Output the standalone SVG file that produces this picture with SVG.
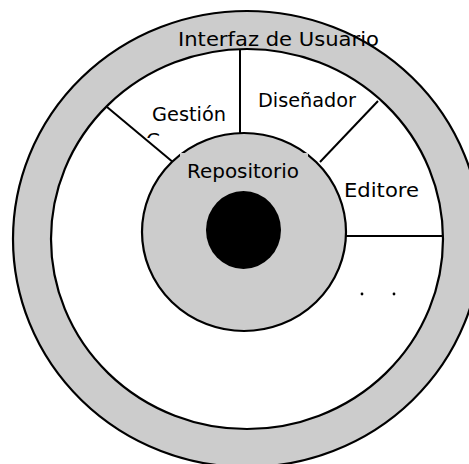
<svg xmlns="http://www.w3.org/2000/svg" width="469" height="464" viewBox="0 0 469 464">
<style>
.ring{fill:#cccccc;stroke:#000;stroke-width:2.2}
.white{fill:#ffffff;stroke:#000;stroke-width:2.2}
.lbl{font-family:"DejaVu Sans","Liberation Sans",sans-serif;font-size:20px;fill:#000}
.conn{stroke:#000;stroke-width:2;fill:none}
</style>
<defs>
<clipPath id="gclip"><rect x="100" y="90" width="140" height="48"/></clipPath>
</defs>
<rect width="469" height="464" fill="#fff"/>
<g id="interfaz">
<ellipse class="ring" cx="247" cy="239" rx="234" ry="228"/>
<ellipse class="white" cx="247" cy="239" rx="196" ry="190"/>
<text class="lbl" x="178" y="46" textLength="201" lengthAdjust="spacingAndGlyphs">Interfaz de Usuario</text>
</g>
<g id="gestion">
<text class="lbl" x="152" y="121" textLength="74" lengthAdjust="spacingAndGlyphs">Gestión</text>
<text class="lbl" x="146" y="147" clip-path="url(#gclip)">C</text>
</g>
<g id="disenador">
<text class="lbl" x="258" y="107" textLength="98" lengthAdjust="spacingAndGlyphs">Diseñador</text>
</g>
<g id="editore">
<text class="lbl" x="344" y="197" textLength="75" lengthAdjust="spacingAndGlyphs">Editore</text>
</g>
<g id="connectors">
<line class="conn" x1="240" y1="50" x2="240" y2="141"/>
<line class="conn" x1="107" y1="107" x2="180" y2="168"/>
<line class="conn" x1="378" y1="101" x2="320" y2="162"/>
<line class="conn" x1="343" y1="236" x2="443" y2="236"/>
</g>
<g id="repositorio">
<ellipse class="ring" cx="244" cy="232" rx="102" ry="99"/>
<rect x="180" y="153" width="128" height="32" fill="#cccccc"/>
<text class="lbl" x="187" y="178" textLength="112" lengthAdjust="spacingAndGlyphs">Repositorio</text>
<ellipse cx="243.5" cy="230" rx="37.5" ry="39" fill="#000"/>
</g>
<g id="dots">
<circle cx="362" cy="294" r="1.4" fill="#000"/>
<circle cx="394" cy="294" r="1.4" fill="#000"/>
</g>
</svg>
